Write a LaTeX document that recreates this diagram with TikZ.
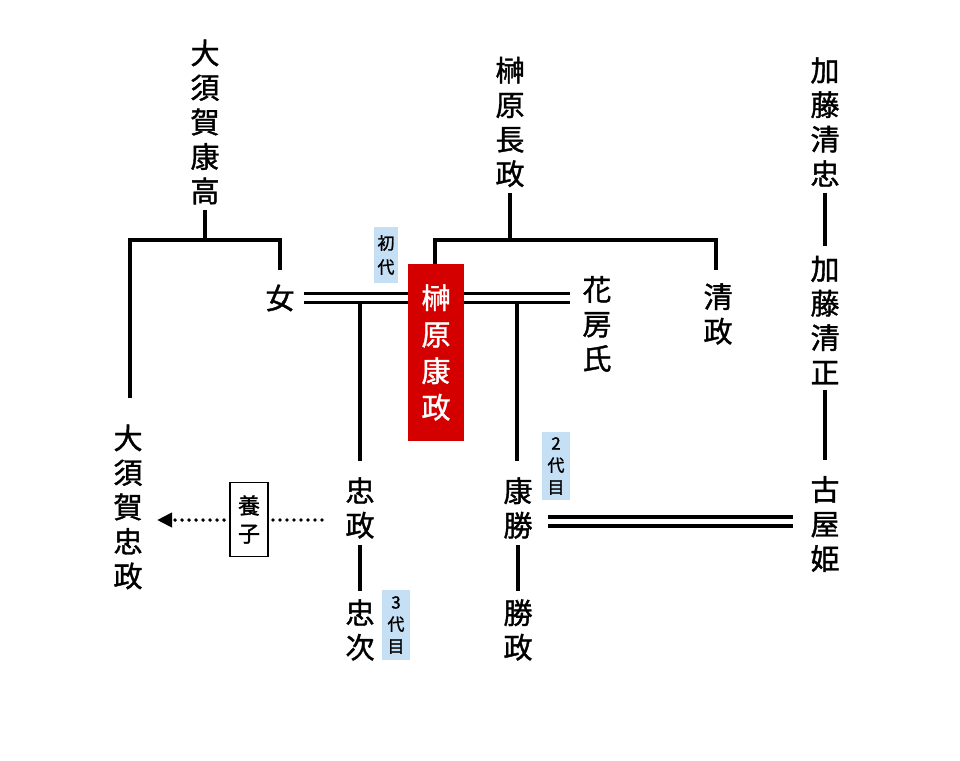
\documentclass[tikz,border=0pt]{standalone}
\usepackage{fontspec}
\setmainfont{Noto Sans CJK JP}[FakeBold=1.3]
\usetikzlibrary{arrows.meta,backgrounds}
\definecolor{kred}{HTML}{D40000}
\definecolor{kblue}{HTML}{C5DFF5}
\tikzset{
  nm/.style={inner sep=0pt, align=center, font=\fontsize{29}{34.5}\selectfont},
  lbl/.style={fill=kblue, inner sep=0pt, align=center, font=\fontsize{17}{24}\selectfont},
  ln/.style={line width=3.6pt},
  dbl/.style={line width=3.6pt, double distance=5.2pt},
  dots/.style={line width=3.8pt, line cap=round, dash pattern=on 0pt off 7pt},
}
\begin{document}
\begin{tikzpicture}[x=1pt,y=-1pt]
\useasboundingbox (0,0) rectangle (960,760);
% names
\node[nm] (ysk) at (205,122) {大\\須\\賀\\康\\高};
\node[nm] (nagamasa) at (510,122) {榊\\原\\長\\政};
\node[nm] (kiyotada) at (825,122) {加\\藤\\清\\忠};
\node[nm] (kiyomasaK) at (825,320) {加\\藤\\清\\正};
\node[nm] (koyahime) at (825,524) {古\\屋\\姫};
\node[nm] (onna) at (280,298) {女};
\node[fill=kred, text=white, minimum width=56pt, minimum height=177pt, inner sep=0pt, align=center, font=\fontsize{29}{36.5}\selectfont] (yasumasa) at (436,352.5) {榊\\原\\康\\政};
\node[lbl, minimum width=24pt, minimum height=56pt] (shodai) at (386,255) {初\\代};
\node[nm] (hanabusa) at (597,324) {花\\房\\氏};
\node[nm] (kiyomasaS) at (718,314) {清\\政};
\node[nm] (tadamasaO) at (128,507) {大\\須\\賀\\忠\\政};
\node[nm] (tadamasa) at (360,508) {忠\\政};
\node[nm] (tadatsugu) at (360,630) {忠\\次};
\node[nm] (yasukatsu) at (518,508) {康\\勝};
\node[nm] (katsumasa) at (518,630) {勝\\政};
\node[lbl, minimum width=28pt, minimum height=68pt, font=\fontsize{17}{22}\selectfont] (nidai) at (556,466) {2\\代\\目};
\node[lbl, minimum width=28pt, minimum height=70pt, font=\fontsize{17}{22}\selectfont] (sandai) at (396,625) {3\\代\\目};
\node[draw, line width=1.8pt, minimum width=38pt, minimum height=74pt, inner sep=0pt, align=center, font=\fontsize{22}{28}\selectfont] (yoshi) at (249,519.5) {養\\子};
% junction coordinates
\coordinate (j1) at (205,240);
\coordinate (j2) at (510,240);
\coordinate (m1) at (360,301);
\coordinate (m2) at (517,301);
\coordinate (d1) at (548,521.5);
\coordinate (d2) at (793,521.5);
\coordinate (a1) at (322,520);
\coordinate (a2) at (157,520);
\begin{scope}[on background layer]
\draw[ln] ([yshift=-5pt]ysk.south) -- (j1);
\draw[ln] (130,398) |- (j1) -| ([yshift=14pt]onna.north);
\draw[ln] ([yshift=-6pt]nagamasa.south) -- (j2);
\draw[ln] (yasumasa.north -| 435,0) |- (j2) -| (716,270);
\draw[dbl] ([xshift=9pt]onna.east) -- ([xshift=-12pt]onna.east -| hanabusa.west);
\draw[ln] (m1) -- ([yshift=16pt]tadamasa.north);
\draw[ln] (m2) -- ([yshift=16pt]yasukatsu.north -| m2);
\draw[ln] ([yshift=-6pt]kiyotada.south) -- ([yshift=10pt]kiyomasaK.north);
\draw[ln] ([yshift=-6pt]kiyomasaK.south) -- ([yshift=16pt]koyahime.north);
\draw[ln] ([yshift=-6pt]tadamasa.south) -- ([yshift=8pt]tadatsugu.north);
\draw[ln] ([yshift=-6pt]yasukatsu.south) -- ([yshift=8pt]katsumasa.north);
\draw[dbl] (d1) -- (d2);
\draw[dots] (a1) -- ([xshift=4pt]yoshi.east |- a1);
\draw[dots, -{Triangle[length=15pt,width=14pt]}] ([xshift=-5pt]yoshi.west |- a1) -- (a2);
\end{scope}
\end{tikzpicture}
\end{document}
